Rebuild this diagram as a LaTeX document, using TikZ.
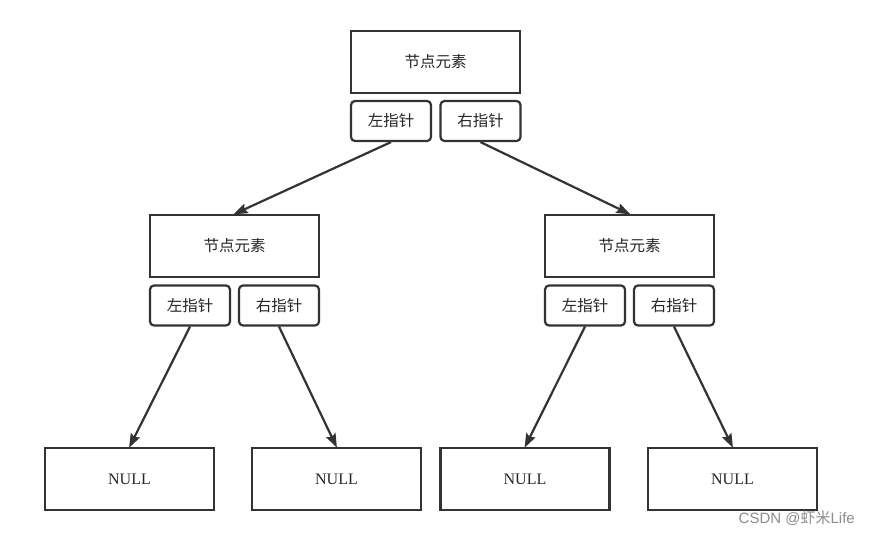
\documentclass[tikz,border=0pt]{standalone}
\usepackage{fontspec}
\usetikzlibrary{arrows.meta}
\setmainfont{Liberation Serif}
\newfontfamily\cjk{Noto Sans CJK SC}
\newfontfamily\marksans{Liberation Sans}
\begin{document}
\begin{tikzpicture}[x=1pt, y=-1pt,
      >={Stealth[length=14pt, width=10pt, inset=2pt]},
      element/.style={
        draw=black!80,
        line width=2.2pt,
        minimum width=169pt,
        minimum height=62pt,
        inner sep=0pt,
        font=\cjk\fontsize{15.5}{18}\selectfont,
        text=black!85
      },
      pointer/.style={
        draw=black!80,
        line width=2.2pt,
        rounded corners=4pt,
        minimum width=80pt,
        minimum height=40pt,
        inner sep=0pt,
        font=\cjk\fontsize{15.5}{18}\selectfont,
        text=black!85
      },
      nullbox/.style={
        element,
        font=\fontsize{16}{18}\selectfont
      },
      link/.style={
        ->,
        line width=2.2pt,
        black!80,
        shorten >=-1pt
      },
    ]

    \useasboundingbox (0, 0) rectangle (869, 535);

    % root
    \node [element] (root) at (435.5, 62) {节点元素};
    \node [pointer] (rootL) at (391, 121) {左指针};
    \node [pointer] (rootR) at (480.5, 121) {右指针};

    % left child
    \node [element] (left) at (234.5, 246) {节点元素};
    \node [pointer] (leftL) at (190, 305.5) {左指针};
    \node [pointer] (leftR) at (279, 305.5) {右指针};

    % right child
    \node [element] (right) at (629.5, 246) {节点元素};
    \node [pointer] (rightL) at (585, 305.5) {左指针};
    \node [pointer] (rightR) at (674, 305.5) {右指针};

    % leaves
    \node [nullbox] (null1) at (129.5, 479) {NULL};
    \node [nullbox] (null2) at (336.5, 479) {NULL};
    \node [nullbox] (null3) at (525, 479) {NULL};
    \node [nullbox] (null4) at (732.5, 479) {NULL};

    \draw [link] (rootL.south) -- (left.north);
    \draw [link] (rootR.south) -- (right.north);
    \draw [link] (leftL.south) -- (null1.north);
    \draw [link] (leftR.south) -- (null2.north);
    \draw [link] (rightL.south) -- (null3.north);
    \draw [link] (rightR.south) -- (null4.north);

    % watermark
    \node [anchor=east, text=black!45, inner sep=0pt,
           font=\marksans\fontsize{15}{17}\selectfont]
          (mark) at (855, 518) {CSDN @{\cjk 虾米}Life};
\end{tikzpicture}
\end{document}
